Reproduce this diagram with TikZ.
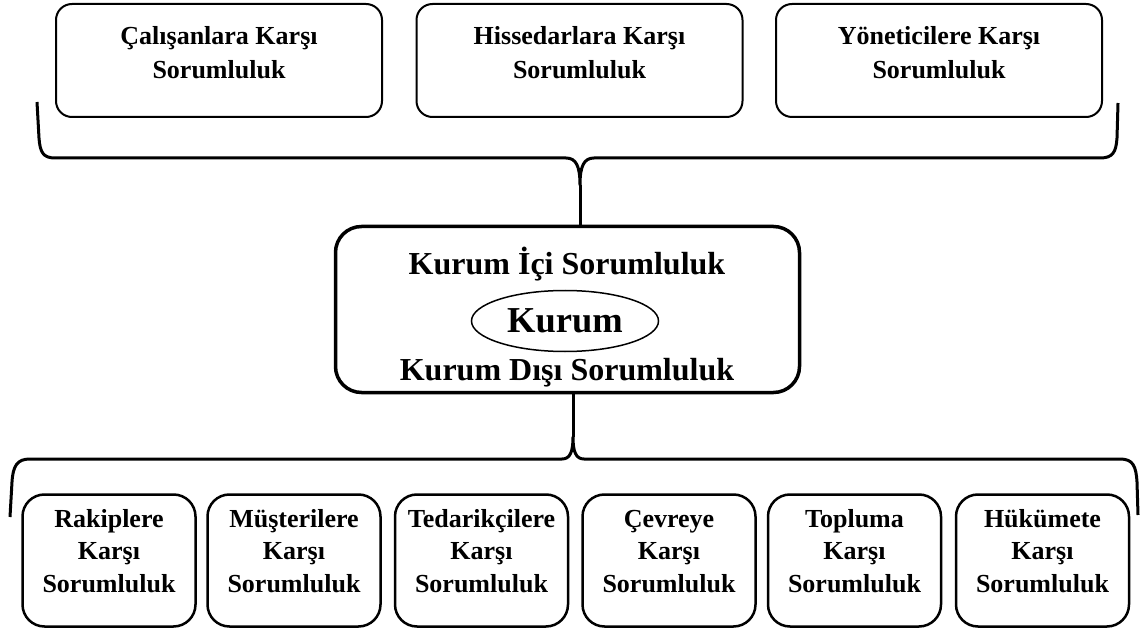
\documentclass[tikz,border=0pt]{standalone}
\usepackage{fontspec}
\setmainfont{Liberation Serif}
\usetikzlibrary{shapes.geometric}
% centred lines whose baseline is the baseline of the first line
\newcommand{\stacklines}[2]{\vtop{\baselineskip=#1\lineskiplimit=-100pt\lineskip=0pt\halign{\hfil##\hfil\cr#2\crcr}}}
\begin{document}
\begin{tikzpicture}[x=1pt,y=-1pt,
  topbox/.style={draw, line width=2pt, rounded corners=16pt, minimum width=326pt, minimum height=113pt, inner sep=0pt},
  botbox/.style={draw, line width=2.5pt, rounded corners=22pt, minimum width=173pt, minimum height=132pt, inner sep=0pt},
  midbox/.style={draw, line width=3.5pt, rounded corners=26pt, minimum width=464pt, minimum height=166pt, inner sep=0pt},
  boxtext/.style={font=\bfseries\fontsize{26}{33}\selectfont, inner sep=0pt, anchor=base},
  midtext/.style={font=\bfseries\fontsize{32}{38}\selectfont, inner sep=0pt, anchor=base},
  core/.style={draw, ellipse, line width=1.5pt, minimum width=187pt, minimum height=61pt, inner sep=0pt, font=\bfseries\fontsize{36.5}{40}\selectfont},
  brace/.style={line width=3pt, line join=round}]
\useasboundingbox (0,0) rectangle (1140,628);

% upper row: internal stakeholders
\node[topbox] (t1) at (219,60.5) {};
\node[topbox] (t2) at (579.5,60.5) {};
\node[topbox] (t3) at (939,60.5) {};
\node[boxtext] (t1l) at (219,45) {\stacklines{34pt}{Çalışanlara Karşı\cr Sorumluluk}};
\node[boxtext] (t2l) at (579.5,45) {\stacklines{34pt}{Hissedarlara Karşı\cr Sorumluluk}};
\node[boxtext] (t3l) at (939,45) {\stacklines{34pt}{Yöneticilere Karşı\cr Sorumluluk}};

% central box
\node[midbox] (mid) at (567.5,309.5) {};
\node[midtext] (inner) at (567,275) {Kurum İçi Sorumluluk};
\node[core] (kurum) at (565,321) {Kurum};
\node[midtext] (outer) at (567,380) {Kurum Dışı Sorumluluk};

% lower row: external stakeholders
\node[botbox] (b1) at (109,560.5) {};
\node[botbox] (b2) at (294,560.5) {};
\node[botbox] (b3) at (481.5,560.5) {};
\node[botbox] (b4) at (669,560.5) {};
\node[botbox] (b5) at (854.5,560.5) {};
\node[botbox] (b6) at (1042.5,560.5) {};
\node[boxtext] (b1l) at (109,527) {\stacklines{32.5pt}{Rakiplere\cr Karşı\cr Sorumluluk}};
\node[boxtext] (b2l) at (294,527) {\stacklines{32.5pt}{Müşterilere\cr Karşı\cr Sorumluluk}};
\node[boxtext] (b3l) at (481.5,527) {\stacklines{32.5pt}{Tedarikçilere\cr Karşı\cr Sorumluluk}};
\node[boxtext] (b4l) at (669,527) {\stacklines{32.5pt}{Çevreye\cr Karşı\cr Sorumluluk}};
\node[boxtext] (b5l) at (854.5,527) {\stacklines{32.5pt}{Topluma\cr Karşı\cr Sorumluluk}};
\node[boxtext] (b6l) at (1042.5,527) {\stacklines{32.5pt}{Hükümete\cr Karşı\cr Sorumluluk}};

% upper brace, its tip running down into the central box
\coordinate (ttip) at (580,185);
\draw[brace] (37,102) -- (39,138) .. controls (40,152) and (43,158) .. (55,158)
  -- (566,158) .. controls (576,158) and (580,166) .. (ttip)
  .. controls (580,166) and (584,158) .. (594,158)
  -- (1100,158) .. controls (1113,158) and (1116,152) .. (1117,138) -- (1118,103);
\draw[brace] (ttip) -- (ttip |- mid.north);

% lower brace, its tip running up into the central box
\coordinate (btip) at (573,437);
\draw[brace] (10,517) -- (12,482) .. controls (13,466) and (17,459) .. (30,459)
  -- (562,459) .. controls (570,459) and (573,452) .. (btip)
  .. controls (573,452) and (576,459) .. (584,459)
  -- (1120,459) .. controls (1133,459) and (1136,466) .. (1137,482) -- (1138,515);
\draw[brace] (btip) -- (btip |- mid.south);
\end{tikzpicture}
\end{document}
